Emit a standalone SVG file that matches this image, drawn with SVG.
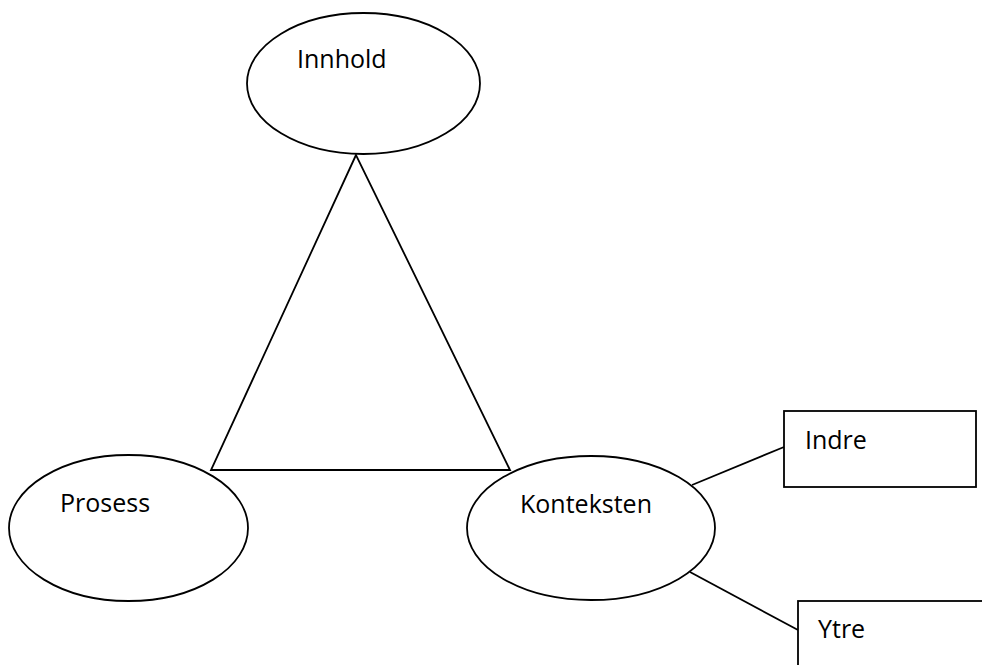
<svg xmlns="http://www.w3.org/2000/svg" width="982" height="665" viewBox="0 0 982 665">
<style>
.s{fill:#fff;stroke:#000;stroke-width:1.8}
.c{fill:none;stroke:#000;stroke-width:1.8}
text{font-family:"Open Sans","Liberation Sans",sans-serif;font-size:25px;fill:#000}
</style>
<rect width="982" height="665" fill="#fff"/>
<g id="connectors">
<polygon class="c" points="356,155 211,470 510,470"/>
<line class="c" x1="692" y1="485" x2="784" y2="447"/>
<line class="c" x1="690" y1="572" x2="798" y2="630"/>
</g>
<g id="innhold">
<ellipse class="s" cx="363.5" cy="83.5" rx="116.5" ry="70.5"/>
<text x="297" y="68">Innhold</text>
</g>
<g id="prosess">
<ellipse class="s" cx="128.5" cy="528" rx="119.5" ry="73"/>
<text x="60" y="512">Prosess</text>
</g>
<g id="konteksten">
<ellipse class="s" cx="591" cy="528" rx="124" ry="72"/>
<text x="520" y="513">Konteksten</text>
</g>
<g id="indre">
<rect class="s" x="784" y="411" width="192" height="76"/>
<text x="805" y="449">Indre</text>
</g>
<g id="ytre">
<rect class="s" x="798" y="601" width="200" height="80"/>
<text x="818" y="638">Ytre</text>
</g>
</svg>
